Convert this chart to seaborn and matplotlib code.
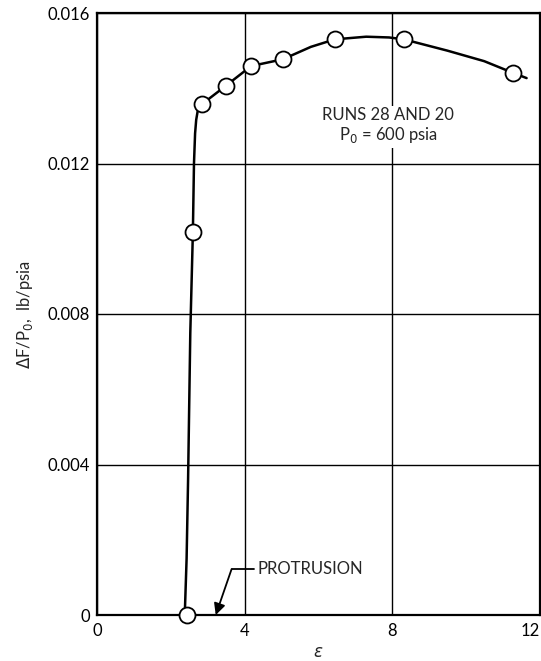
import matplotlib
matplotlib.use("Agg")
import matplotlib.pyplot as plt
import seaborn as sns
import pandas as pd

# Measured thrust increment per unit chamber pressure vs. area ratio
eps_pts = [2.43, 2.60, 2.85, 3.50, 4.18, 5.04, 6.45, 8.32, 11.28]
dF_pts = [0.0, 0.01017, 0.01358, 0.01407, 0.01459, 0.01477, 0.01530, 0.01530, 0.01441]

# Faired curve through the data
curve_eps = [2.38, 2.43, 2.47, 2.53, 2.60, 2.63, 2.66, 2.69, 2.74, 2.85,
             3.50, 4.18, 5.04, 5.80, 6.45, 7.30, 7.92, 8.32, 9.50, 10.50, 11.28, 11.65]
curve_dF = [0.0, 0.0015, 0.0036, 0.0075, 0.01017, 0.0120, 0.0128, 0.01316, 0.01345, 0.01358,
            0.01407, 0.01459, 0.01477, 0.01510, 0.01530, 0.01537, 0.01535, 0.01530, 0.01500,
            0.01472, 0.01441, 0.01427]

x_ticks = [0, 4, 8, 12]
x_tick_labels = ["0", "4", "8", "12"]
y_ticks = [0, 0.004, 0.008, 0.012, 0.016]
y_tick_labels = ["0", "0.004", "0.008", "0.012", "0.016"]

sns.set_style("white")
plt.rcParams["font.family"] = ["Lato", "DejaVu Sans"]

FS = 12

fig = plt.figure(figsize=(5.41, 6.61), dpi=100)
ax = fig.add_axes([97 / 541, 46 / 661, 442.5 / 541, 602 / 661])

pts = pd.DataFrame({"eps": eps_pts, "dF": dF_pts})
crv = pd.DataFrame({"eps": curve_eps, "dF": curve_dF})

sns.lineplot(data=crv, x="eps", y="dF", ax=ax, color="black", lw=1.8,
             estimator=None, sort=False, zorder=3)
ax.plot(pts["eps"], pts["dF"], "o", ms=11.5, mfc="white", mec="black",
        mew=1.3, zorder=4, clip_on=False)

ax.set_xlim(0, 12)
ax.set_ylim(0, 0.016)
ax.set_xticks(x_ticks)
ax.set_xticklabels(x_tick_labels)
ax.set_yticks(y_ticks)
ax.set_yticklabels(y_tick_labels)
ax.tick_params(axis="y", length=0, labelsize=FS, pad=5, colors="black")
ax.tick_params(axis="x", length=0, labelsize=FS, pad=6, colors="black")
# keep the last x label inside the figure edge
ax.get_xticklabels()[-1].set_horizontalalignment("right")
ax.get_xticklabels()[-1].set_x(12.05)
ax.grid(True, color="black", lw=1.0)
ax.set_axisbelow(True)
for s in ax.spines.values():
    s.set_visible(True)
    s.set_color("black")
    s.set_linewidth(1.6)

ax.set_xlabel(r"$\epsilon$", fontsize=FS)
ax.xaxis.set_label_coords(0.5, -0.062)
ax.xaxis.label.set_va("center")
ax.set_ylabel(r"$\Delta$F/P$_0$,  lb/psia", fontsize=FS, labelpad=9)

ax.text(7.9, 0.01300, "RUNS 28 AND 20\n" + r"P$_0$ = 600 psia", ha="center",
        va="center", fontsize=FS, linespacing=1.15,
        bbox=dict(fc="white", ec="none", pad=2))

# Protrusion callout
ax.plot([3.65, 4.25], [0.00122, 0.00122], color="black", lw=1.3, zorder=3)
ax.annotate("", xy=(3.22, 0.0), xytext=(3.65, 0.00122),
            arrowprops=dict(arrowstyle="-|>", color="black", lw=1.3,
                            mutation_scale=17, shrinkA=0, shrinkB=0), zorder=3)
ax.text(4.35, 0.00122, "PROTRUSION", ha="left", va="center", fontsize=FS)

fig.savefig("out.png", dpi=100)
